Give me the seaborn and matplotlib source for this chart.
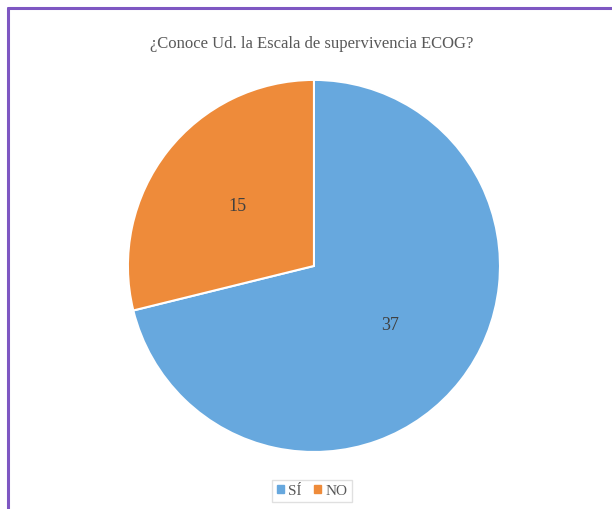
import matplotlib
matplotlib.use("Agg")
import matplotlib.pyplot as plt
import matplotlib.patches as mpatches
import seaborn as sns

# Datos de la encuesta
respuestas = ['SÍ', 'NO']
conteos = [37, 15]
colores = sns.color_palette(['#67A8DE', '#EE8B3A'])

sns.set_theme(style='white')
plt.rcParams['font.family'] = ['Liberation Serif', 'DejaVu Serif']

fig = plt.figure(figsize=(6.12, 5.09), dpi=100)
fig.patch.set_facecolor('white')

# Marco morado superior e izquierdo
fig.add_artist(plt.Line2D([8 / 612, 8 / 612], [0, 1 - 8 / 509], color='#7E57C2', lw=2.2,
                          transform=fig.transFigure))
fig.add_artist(plt.Line2D([8 / 612, 1], [1 - 8 / 509, 1 - 8 / 509], color='#7E57C2', lw=2.2,
                          transform=fig.transFigure))

ax = fig.add_axes([0.209, 0.112, 0.608, 0.731])
wedges, textos, autotextos = ax.pie(
    conteos, colors=colores, startangle=90, counterclock=False,
    autopct=lambda p: '{:.0f}'.format(p * sum(conteos) / 100),
    pctdistance=0.52, wedgeprops={'edgecolor': 'white', 'linewidth': 1.5},
    textprops={'fontsize': 13, 'color': '#404040'})
ax.set_xlim(-1, 1)
ax.set_ylim(-1, 1)
ax.set_aspect('equal')

fig.text(0.51, 0.913, '¿Conoce Ud. la Escala de supervivencia ECOG?', ha='center', va='center',
         fontsize=12, color='#595959')

handles = [mpatches.Patch(color=c, label=r) for c, r in zip(colores, respuestas)]
leg = fig.legend(handles=handles, loc='center', bbox_to_anchor=(0.51, 0.035), ncol=2,
                 fontsize=11, handlelength=0.45, handleheight=0.45, handletextpad=0.3,
                 columnspacing=0.8, frameon=True, fancybox=False, edgecolor='#D9D9D9',
                 borderpad=0.3)
for t in leg.get_texts():
    t.set_color('#595959')

fig.savefig('out.png', dpi=100)
